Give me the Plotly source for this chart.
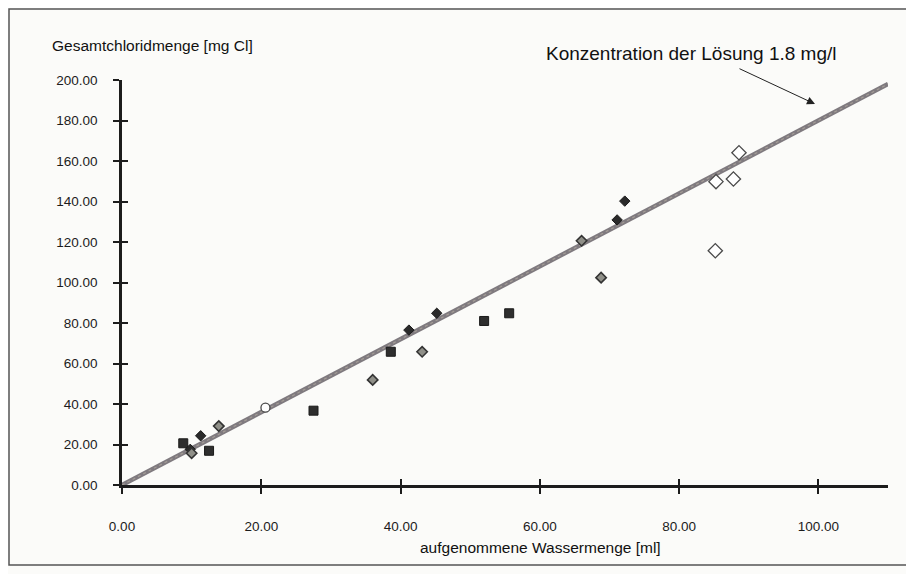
import plotly.graph_objects as go

# ---- data ----
line_x = [0, 110]
line_y = [0, 198]

squares_x = [8.8, 12.5, 27.5, 38.6, 52.0, 55.6]
squares_y = [20.6, 16.9, 36.7, 65.8, 81.0, 84.8]

filled_diamonds_x = [9.8, 11.3, 41.2, 45.2, 71.1, 72.2]
filled_diamonds_y = [17.6, 24.3, 76.5, 84.8, 130.9, 140.2]

hatched_diamonds_x = [10.0, 13.9, 36.0, 43.1, 66.0, 68.8]
hatched_diamonds_y = [15.7, 29.1, 51.9, 65.8, 120.6, 102.4]

open_diamonds_x = [85.2, 85.3, 87.8, 88.6]
open_diamonds_y = [115.7, 149.8, 151.1, 164.1]

open_circle_x = [20.6]
open_circle_y = [38.2]

x_tickvals = [0, 20, 40, 60, 80, 100]
y_tickvals = [0, 20, 40, 60, 80, 100, 120, 140, 160, 180, 200]

x_title = "aufgenommene Wassermenge [ml]"
y_title = "Gesamtchloridmenge [mg Cl]"
note_text = "Konzentration der Lösung 1.8 mg/l"

# ---- layout geometry (page pixels; the page body adds an 8px offset) ----
W, H = 914, 574
OFF = 8
L, R, T, B = 122 - OFF, 888 - OFF, 80 - OFF, 485 - OFF

def px(x):
    return (x - OFF - L) / (R - L)

def py(y):
    return (B - (y - OFF)) / (B - T)

FONT = "Liberation Sans, Arial, sans-serif"
INK = "#1c1c1c"

fig = go.Figure()

fig.add_trace(go.Scatter(x=line_x, y=line_y, mode="lines",
                         line=dict(color="#7f7a7f", width=4.5),
                         hoverinfo="skip", showlegend=False))
fig.add_trace(go.Scatter(x=line_x, y=line_y, mode="lines",
                         line=dict(color="#a39c96", width=1.2, dash="dot"),
                         hoverinfo="skip", showlegend=False))

fig.add_trace(go.Scatter(x=squares_x, y=squares_y, mode="markers",
                         marker=dict(symbol="square", size=9, color="#2e2e2e",
                                     line=dict(color="#1a1a1a", width=1)),
                         showlegend=False))
fig.add_trace(go.Scatter(x=filled_diamonds_x, y=filled_diamonds_y, mode="markers",
                         marker=dict(symbol="diamond", size=8, color="#2a2a2a",
                                     line=dict(color="#1a1a1a", width=1)),
                         showlegend=False))
fig.add_trace(go.Scatter(x=hatched_diamonds_x, y=hatched_diamonds_y, mode="markers",
                         marker=dict(symbol="diamond", size=8, color="#8f8f88",
                                     line=dict(color="#333333", width=1.6)),
                         showlegend=False))
fig.add_trace(go.Scatter(x=open_diamonds_x, y=open_diamonds_y, mode="markers",
                         marker=dict(symbol="diamond", size=11, color="#ffffff",
                                     line=dict(color="#4a4a4a", width=1.3)),
                         showlegend=False))
fig.add_trace(go.Scatter(x=open_circle_x, y=open_circle_y, mode="markers",
                         marker=dict(symbol="circle", size=9, color="#ffffff",
                                     line=dict(color="#4a4a4a", width=1.3)),
                         showlegend=False))

# invisible trace so the overlay axes (inside half of the crossing ticks) render
fig.add_trace(go.Scatter(x=line_x, y=line_y, mode="lines", xaxis="x2", yaxis="y2",
                         line=dict(width=0), opacity=0, hoverinfo="skip",
                         showlegend=False))

axis_common = dict(showgrid=False, zeroline=False, linecolor=INK, linewidth=2.5,
                   ticks="outside", ticklen=6, tickwidth=2, tickcolor=INK,
                   tickfont=dict(family=FONT, size=13.5, color=INK),
                   tickformat=".2f")

fig.update_layout(
    width=W, height=H,
    margin=dict(l=L, r=W - R, t=T, b=H - B),
    paper_bgcolor="#fbfbf9", plot_bgcolor="#fbfbf9",
    xaxis=dict(range=[0, 110], tickvals=x_tickvals, showline=True,
               ticklabelstandoff=21, **axis_common),
    yaxis=dict(range=[0, 200], tickvals=y_tickvals, showline=True,
               ticklabelstandoff=13, **axis_common),
    xaxis2=dict(overlaying="x", anchor="y", side="bottom", range=[0, 110],
                tickvals=x_tickvals, showticklabels=False, showline=False,
                showgrid=False, zeroline=False, ticks="inside", ticklen=6,
                tickwidth=2, tickcolor=INK),
    yaxis2=dict(overlaying="y", anchor="x", side="left", range=[0, 200],
                tickvals=y_tickvals, showticklabels=False, showline=False,
                showgrid=False, zeroline=False, ticks="inside", ticklen=6,
                tickwidth=2, tickcolor=INK),
    font=dict(family=FONT, color=INK),
)

# outer frame
fig.add_shape(type="rect", xref="paper", yref="paper",
              x0=px(9), x1=px(910), y0=py(565), y1=py(9),
              line=dict(color="#555555", width=1.5), fillcolor="rgba(0,0,0,0)",
              layer="below")

# titles
fig.add_annotation(x=px(50), y=py(45), xref="paper", yref="paper",
                   xanchor="left", yanchor="middle", showarrow=False,
                   text=y_title, font=dict(family=FONT, size=15.5, color="#111"))
fig.add_annotation(x=px(540), y=py(547), xref="paper", yref="paper",
                   xanchor="center", yanchor="middle", showarrow=False,
                   text=x_title, font=dict(family=FONT, size=15.5, color="#111"))
fig.add_annotation(x=px(691), y=py(54), xref="paper", yref="paper",
                   xanchor="center", yanchor="middle", showarrow=False,
                   text=note_text, font=dict(family=FONT, size=19, color="#111"))
# arrow
fig.add_annotation(x=px(815), y=py(104), xref="paper", yref="paper",
                   ax=-77, ay=-36, text="", showarrow=True,
                   arrowhead=2, arrowsize=1.6, arrowwidth=1, arrowcolor="#222")

fig.write_html("out.html")
